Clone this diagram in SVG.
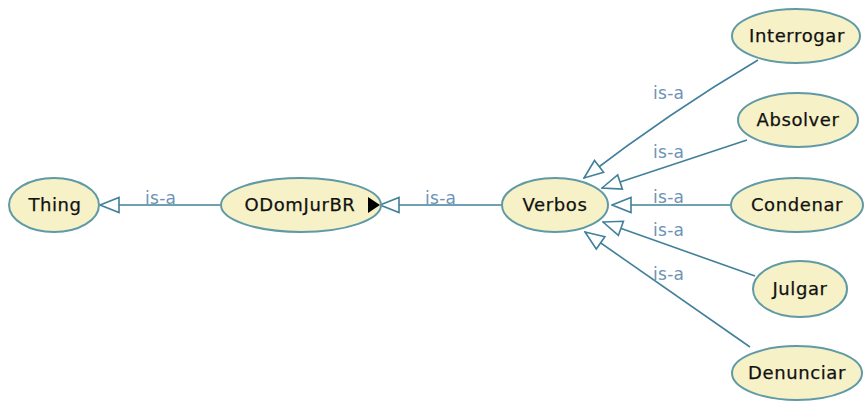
<svg xmlns="http://www.w3.org/2000/svg" width="866" height="401" viewBox="0 0 866 401">
<defs>
<style>
.node ellipse{fill:#f6f1c6;stroke:#5f9aa6;stroke-width:2}
.node text{font-family:"DejaVu Sans",sans-serif;font-size:18px;fill:#111111;text-anchor:middle;letter-spacing:0.6px;stroke:#111111;stroke-width:0.25}
.edge{fill:none;stroke:#42809a;stroke-width:1.6}
.lbl{font-family:"DejaVu Sans",sans-serif;font-size:17px;fill:#6e93b4;letter-spacing:0.3px}
</style>
<marker id="tri" markerUnits="userSpaceOnUse" viewBox="0 0 22 18" markerWidth="22" markerHeight="18" refX="1" refY="9" orient="auto">
<path d="M1,9 L20,1.5 L20,16.5 Z" fill="#ffffff" stroke="#42809a" stroke-width="1.6"/>
</marker>
</defs>
<rect width="866" height="401" fill="#ffffff"/>
<g id="connectors">
<path class="edge" d="M100,205 L220,205" marker-start="url(#tri)"/>
<path class="edge" d="M380,205 L502,205" marker-start="url(#tri)"/>
<path class="edge" d="M584,178 Q670,112 758,60" marker-start="url(#tri)"/>
<path class="edge" d="M602,188 L747,140" marker-start="url(#tri)"/>
<path class="edge" d="M612,205 L730,205" marker-start="url(#tri)"/>
<path class="edge" d="M603,222 L755,276" marker-start="url(#tri)"/>
<path class="edge" d="M585,232 L750,347" marker-start="url(#tri)"/>
<text class="lbl" x="145" y="204">is-a</text>
<text class="lbl" x="425" y="204">is-a</text>
<text class="lbl" x="653" y="99">is-a</text>
<text class="lbl" x="653" y="158">is-a</text>
<text class="lbl" x="653" y="203">is-a</text>
<text class="lbl" x="653" y="236">is-a</text>
<text class="lbl" x="653" y="280">is-a</text>
</g>
<g id="Thing" class="node"><ellipse cx="54" cy="205" rx="45" ry="27"/><text x="55" y="211">Thing</text></g>
<g id="ODomJurBR" class="node"><ellipse cx="301" cy="205" rx="80" ry="27"/><text x="300" y="211">ODomJurBR</text><path d="M368,197 L380,205 L368,213 Z" fill="#000000"/></g>
<g id="Verbos" class="node"><ellipse cx="555" cy="205" rx="53" ry="27"/><text x="555" y="211">Verbos</text></g>
<g id="Interrogar" class="node"><ellipse cx="796" cy="36" rx="64" ry="27"/><text x="797" y="42">Interrogar</text></g>
<g id="Absolver" class="node"><ellipse cx="798" cy="120" rx="60" ry="27"/><text x="798" y="126">Absolver</text></g>
<g id="Condenar" class="node"><ellipse cx="797" cy="205" rx="66" ry="27"/><text x="797" y="211">Condenar</text></g>
<g id="Julgar" class="node"><ellipse cx="800" cy="289" rx="47" ry="28"/><text x="800" y="295">Julgar</text></g>
<g id="Denunciar" class="node"><ellipse cx="797" cy="373" rx="65" ry="27"/><text x="797" y="379">Denunciar</text></g>
</svg>
